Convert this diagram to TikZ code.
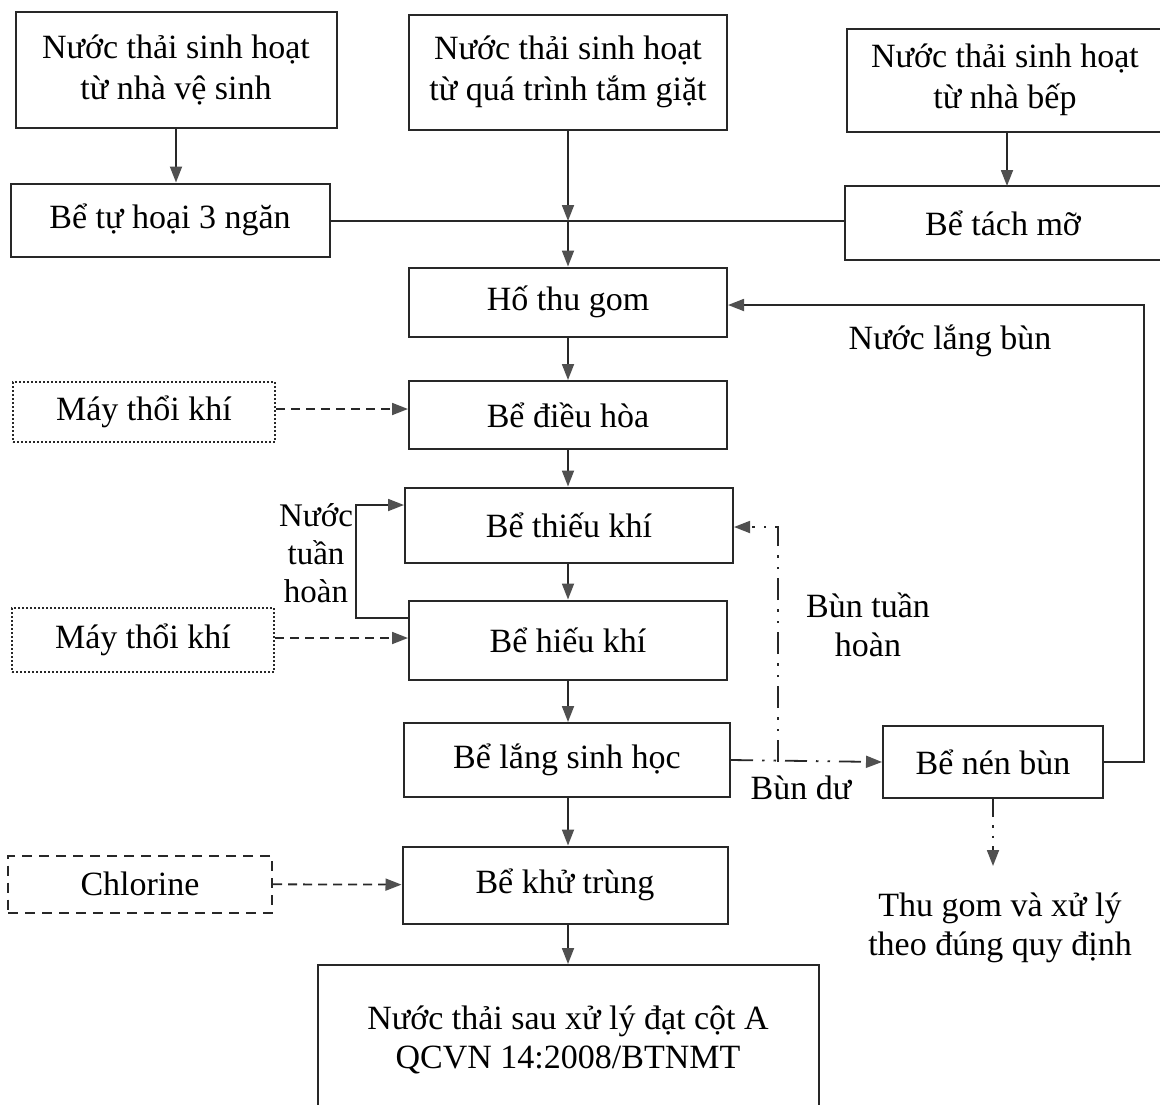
\documentclass[tikz,border=0pt]{standalone}
\usepackage{fontspec}
\setmainfont{Liberation Serif}
\usepackage{tikz}
\usetikzlibrary{positioning, arrows.meta}
\definecolor{inkgray}{RGB}{40,40,40}
\definecolor{tipgray}{RGB}{80,80,80}
\tikzset{
  tankbox/.style={
    rectangle, draw=inkgray, line width=2pt,
    minimum width=318pt, minimum height=72pt,
    align=center, font=\fontsize{34}{41}\selectfont
  },
  airbox/.style={
    tankbox, dotted, line width=2.4pt,
    minimum width=262pt, minimum height=60pt
  },
  chembox/.style={
    tankbox, dash pattern=on 10pt off 7pt,
    minimum width=264pt, minimum height=57pt
  },
  flowarrow/.style={
    -{Triangle[length=16pt, width=12pt, color=tipgray]},
    line width=1.8pt, draw=inkgray
  },
  airarrow/.style={
    flowarrow, dash pattern=on 9pt off 6pt
  },
  sludgearrow/.style={
    flowarrow, dash pattern=on 22pt off 9pt on 2.5pt off 9pt on 2.5pt off 9pt
  },
  flowlabel/.style={
    align=center, inner sep=0pt, font=\fontsize{34}{39}\selectfont
  },
}
\begin{document}
\begin{tikzpicture}[x=1pt, y=-1pt]
  \useasboundingbox (0,0) rectangle (1160,1104);
  % sources
  \node[tankbox, minimum width=321pt, minimum height=116pt] (wc) at (176,70)
        {Nước thải sinh hoạt\\từ nhà vệ sinh};
  \node[tankbox, minimum height=115pt] (bath) at (568,72)
        {Nước thải sinh hoạt\\từ quá trình tắm giặt};
  \node[tankbox, minimum width=330pt, minimum height=103pt] (kitchen) at (1012,80)
        {\hspace*{-14pt}Nước thải sinh hoạt\\\hspace*{-14pt}từ nhà bếp};
  % pre-treatment
  \node[tankbox, minimum width=319pt, minimum height=73pt] (septic) at (170,220)
        {Bể tự hoại 3 ngăn};
  \node[tankbox, minimum width=330pt, minimum height=74pt] (grease) at (1010,223)
        {\hspace*{-14pt}Bể tách mỡ};
  % main line
  \node[tankbox, minimum height=69pt] (pit) at (568,302) {Hố thu gom};
  \node[tankbox, minimum height=68pt] (equal) at (568,415) {Bể điều hòa};
  \node[tankbox, minimum width=328pt, minimum height=75pt] (anox) at (569,525) {Bể thiếu khí};
  \node[tankbox, minimum height=79pt] (aero) at (568,640) {Bể hiếu khí};
  \node[tankbox, minimum width=326pt, minimum height=74pt] (settle) at (567,760) {Bể lắng sinh học};
  \node[tankbox, minimum width=325pt, minimum height=77pt] (disinf) at (565,885) {Bể khử trùng};
  \node[tankbox, minimum width=501pt, minimum height=150pt] (out) at (568,1040)
        {\raisebox{-6pt}{Nước thải sau xử lý đạt cột A}\\[-2pt]\raisebox{-6pt}{QCVN 14:2008/BTNMT}};
  % side inputs
  \node[airbox] (blow1) at (144,412) {Máy thổi khí};
  \node[airbox, minimum height=64pt] (blow2) at (143,640) {Máy thổi khí};
  \node[chembox] (chlor) at (140,884) {Chlorine};
  % sludge
  \node[tankbox, minimum width=220pt, minimum height=72pt] (thick) at (993,762) {Bể nén bùn};
  \node[flowlabel] (dispose) at (1000,928) {Thu gom và xử lý\\theo đúng quy định};
  % labels
  \node[flowlabel] (lreturn) at (950,341) {Nước lắng bùn};
  \node[flowlabel, font=\fontsize{33}{38}\selectfont] (lrecyc) at (316,553) {Nước\\tuần\\hoàn};
  \node[flowlabel] (lsludge) at (868,625) {Bùn tuần\\hoàn};
  \node[flowlabel] (lwaste) at (801,788) {Bùn dư};

  \coordinate (jn) at (568,221);
  \coordinate (split) at (778,762);
  \coordinate (dispend) at (993,866);

  % flow
  \draw[flowarrow] (wc) -- (wc |- septic.north);
  \draw[flowarrow] (kitchen.south -| 1007,0) -- (1007,186);
  \draw[draw=inkgray, line width=1.8pt] (septic.east |- jn) -- (grease.west |- jn);
  \draw[flowarrow] (bath) -- (jn);
  \draw[flowarrow] (jn) -- (pit);
  \draw[flowarrow] (pit) -- (equal);
  \draw[flowarrow] (equal) -- (equal |- anox.north);
  \draw[flowarrow] (equal |- anox.south) -- (equal |- aero.north);
  \draw[flowarrow] (aero) -- (aero |- settle.north);
  \draw[flowarrow] (aero |- settle.south) -- (aero |- disinf.north);
  \draw[flowarrow] (aero |- disinf.south) -- (aero |- out.north);
  \draw[flowarrow] ([yshift=22pt]aero.west) -- ++(-52,0) |- ([yshift=20pt]anox.west);
  \draw[flowarrow] (thick.east) -- ++(40,0) |- ([yshift=-3pt]pit.east);
  % air and chemicals
  \draw[airarrow] (blow1.east |- 0,409) -- (equal.west |- 0,409);
  \draw[airarrow] (blow2.east |- 0,638) -- (aero.west |- 0,638);
  \draw[airarrow] (chlor) -- (disinf);
  % sludge lines
  \draw[sludgearrow] (settle.east) -- (thick.west);
  \draw[sludgearrow] (split) |- ([yshift=-2pt]anox.east);
  \draw[sludgearrow, dash pattern=on 18pt off 8pt on 2.5pt off 8pt on 2.5pt off 8pt] (thick.south) -- (dispend);
\end{tikzpicture}
\end{document}
